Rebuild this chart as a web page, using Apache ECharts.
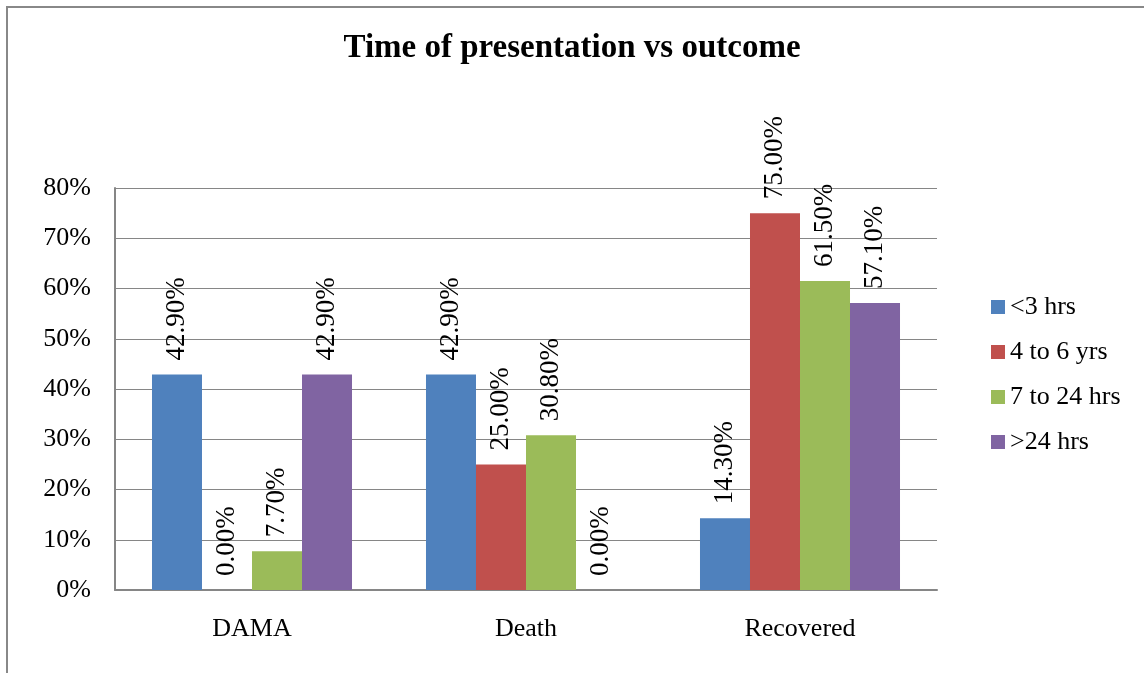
<!DOCTYPE html>
<html>
<head>
<meta charset="utf-8">
<script src="https://cdn.jsdelivr.net/npm/echarts@6/dist/echarts.min.js"></script>
<style>
  html, body { margin: 0; padding: 0; background: #fff; }
  #main { width: 1144px; height: 673px; }
</style>
</head>
<body>
<div id="main"></div>
<script>
var categories = ['DAMA', 'Death', 'Recovered'];
var seriesNames = ['<3 hrs', '4 to 6 yrs', '7 to 24 hrs', '>24 hrs'];
var under3 = [42.9, 42.9, 14.3];
var from4to6 = [0.0, 25.0, 75.0];
var from7to24 = [7.7, 30.8, 61.5];
var over24 = [42.9, 0.0, 57.1];
var colors = ['#4F81BD', '#C0504D', '#9BBB59', '#8064A2'];

var font = 'Liberation Serif';

function makeSeries(name, data, color) {
    return {
        name: name,
        type: 'bar',
        barGap: '0%',
        barCategoryGap: '27%',
        itemStyle: { color: color },
        label: {
            show: true,
            position: 'top',
            rotate: 90,
            align: 'left',
            verticalAlign: 'middle',
            distance: 14,
            fontFamily: font,
            fontSize: 27,
            color: '#000',
            formatter: function (p) { return p.value.toFixed(2) + '%'; }
        },
        data: data
    };
}

var option = {
    animation: false,
    backgroundColor: '#fff',
    title: {
        text: 'Time of presentation vs outcome',
        left: 'center',
        top: 27,
        textStyle: { fontFamily: font, fontSize: 33, fontWeight: 'bold', color: '#000' }
    },
    legend: {
        orient: 'vertical',
        left: 986,
        top: 289,
        itemWidth: 14,
        itemHeight: 14,
        itemGap: 19,
        icon: 'rect',
        textStyle: { fontFamily: font, fontSize: 26, color: '#000' },
        data: seriesNames
    },
    graphic: [{
        type: 'rect',
        shape: { x: 7, y: 7, width: 1200, height: 700 },
        style: { fill: 'none', stroke: '#888', lineWidth: 2 },
        silent: true
    }],
    grid: { left: 115, right: 207, top: 188, bottom: 83 },
    xAxis: {
        type: 'category',
        data: categories,
        axisLine: { lineStyle: { color: '#868686', width: 2 } },
        axisTick: { show: false },
        axisLabel: { fontFamily: font, fontSize: 26, color: '#000', margin: 26 }
    },
    yAxis: {
        type: 'value',
        min: 0,
        max: 80,
        interval: 10,
        axisLine: { show: true, lineStyle: { color: '#868686', width: 2 } },
        axisTick: { show: false },
        splitLine: { lineStyle: { color: '#868686', width: 1 } },
        axisLabel: {
            fontFamily: font, fontSize: 26, color: '#000', margin: 24,
            formatter: '{value}%'
        }
    },
    series: [
        makeSeries(seriesNames[0], under3, colors[0]),
        makeSeries(seriesNames[1], from4to6, colors[1]),
        makeSeries(seriesNames[2], from7to24, colors[2]),
        makeSeries(seriesNames[3], over24, colors[3])
    ]
};

var chart = echarts.init(document.getElementById('main'));
chart.setOption(option);
</script>
</body>
</html>
